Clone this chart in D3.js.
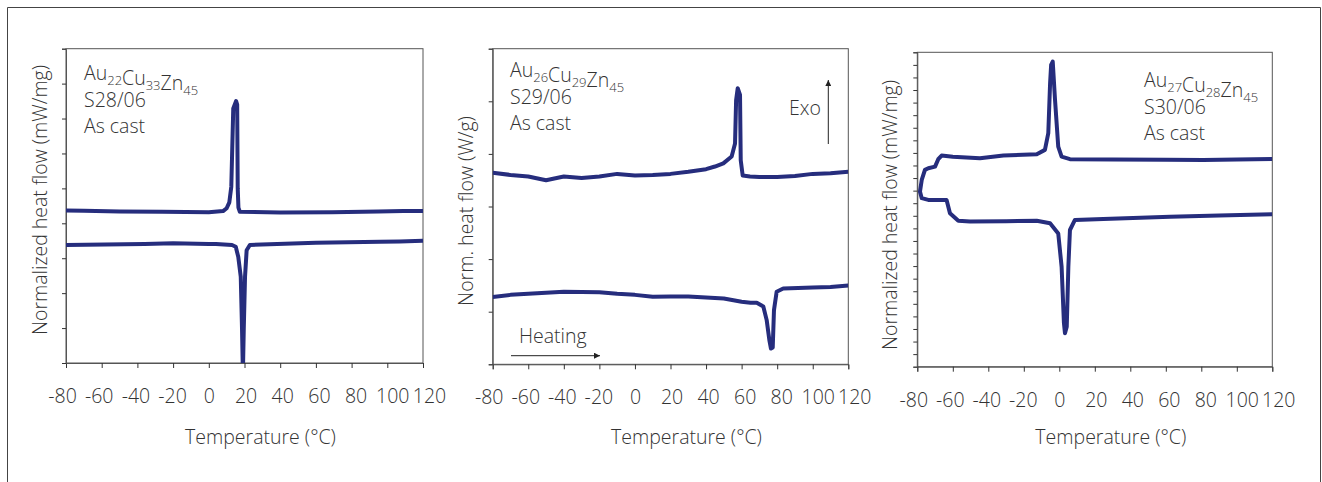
<!DOCTYPE html>
<html>
<head>
<meta charset="utf-8">
<script src="https://cdn.jsdelivr.net/npm/d3@7"></script>
<style>
  html, body { margin: 0; padding: 0; background: #fff; }
  svg { display: block; }
  text { font-family: "Open Sans", "Noto Sans", sans-serif; font-weight: 300; fill: #333; }
</style>
</head>
<body>
<svg id="chart" width="1322" height="482"></svg>
<script>
// ---------------- DATA ----------------
const xTickValues = [-80, -60, -40, -20, 0, 20, 40, 60, 80, 100, 120];
const xTickLabels = ["-80", "-60", "-40", "-20", "0", "20", "40", "60", "80", "100", "120"];
const xAxisTitle = "Temperature (°C)";
const yAxisTitles = ["Normalized heat flow (mW/mg)", "Norm. heat flow (W/g)", "Normalized heat flow (mW/mg)"];

// Alloy labels: [base, sub] pairs
const alloy1 = [["Au", "22"], ["Cu", "33"], ["Zn", "45"]];
const alloy2 = [["Au", "26"], ["Cu", "29"], ["Zn", "45"]];
const alloy3 = [["Au", "27"], ["Cu", "28"], ["Zn", "45"]];
const sampleIds = ["S28/06", "S29/06", "S30/06"];
const stateLabel = "As cast";

// Y domains (arbitrary units; axis has no labels)
const yDomain1 = [0, 9];
const yDomain2 = [0, 6];
const yDomain3 = [0, 25];

// Panel 1 — Au22Cu33Zn45: [temperature, heat flow]
const p1Upper = [[-80,4.37],[-70,4.36],[-50,4.34],[-26,4.33],[0,4.32],[8,4.35],[10,4.43],[11.5,4.6],[12.6,5.05],[13.7,7.29],
  [15.3,7.5],[15.9,7.4],[16.2,5.0],[16.6,4.45],[17.4,4.33],[40,4.31],[69,4.32],[95,4.34],[109,4.35],[120,4.35]];
const p1Lower = [[-80,3.38],[-36,3.41],[-20,3.43],[0,3.41],[4,3.41],[13,3.38],[15.1,3.33],[16.5,3.04],[17.9,2.47],[18.6,1.0],
  [19.1,-0.3],[19.6,1.0],[20.3,2.47],[21.2,3.23],[23,3.38],[60,3.44],[96,3.47],[107,3.48],[120,3.5]];

// Panel 2 — Au26Cu29Zn45
const p2Upper = [[-80,3.64],[-70,3.6],[-60,3.57],[-50,3.5],[-40,3.57],[-30,3.54],[-20,3.57],
  [-10,3.62],[0,3.59],[10,3.6],[20,3.62],[30,3.66],[40,3.71],[45,3.76],[49.7,3.82],[54.4,3.95],[56.3,4.2],[56.9,5.02],
  [57.8,5.25],[59.1,5.12],[59.5,3.88],[60.6,3.59],[64.7,3.57],[70,3.56],[80,3.56],[90,3.58],[100,3.62],[110,3.63],[120,3.66]];
const p2Lower = [[-80,1.28],[-70,1.32],[-60,1.34],[-50,1.36],[-40,1.38],[-30,1.375],[-20,1.37],[-10,1.34],[0,1.32],[10,1.285],
  [20,1.29],[30,1.29],[40,1.27],[50,1.25],[60,1.19],[65,1.17],[68.5,1.17],[72.2,1.1],[74.1,0.84],[75.6,0.46],[76.5,0.3],
  [77.5,0.32],[78.2,1.03],[79.7,1.38],[83.4,1.44],[100,1.46],[110,1.47],[120,1.5]];

// Panel 3 — Au27Cu28Zn45 (continuous loop: cooling from 120 °C, then heating)
const p3Cooling = [[120,16.52],[100,16.47],[81.1,16.44],[60,16.45],[30,16.48],[6,16.5],[1.3,16.7],[-0.6,17.5],[-2.4,21.2],
  [-3.7,24.26],[-4.6,24.0],[-5.2,22.5],[-6.2,18.57],[-8.1,17.24],[-12.7,16.9],[-31.5,16.79],[-44.7,16.58],[-60,16.7],
  [-66.3,16.79],[-68.2,16.5],[-70,15.91],[-73.8,15.78],[-75.7,15.65],[-77.5,14.85],[-78.5,13.92]];
const p3Heating = [[-78.5,13.92],[-77.5,13.4],[-73.8,13.26],[-63.5,13.26],[-61.6,12.2],[-56.9,11.6],[-50.3,11.54],
  [-30,11.57],[-12.7,11.6],[-5.2,11.4],[-0.6,10.6],[1.3,7.95],[2.6,3.5],[3.2,2.66],[4.2,3.18],[5.1,7.95],[6,10.87],
  [8.8,11.67],[24.8,11.75],[62.4,11.93],[90,12.03],[120,12.12]];

// ---------------- LAYOUT ----------------
const svg = d3.select("#chart");
const lineColor = "#262d7d";
const axisColor = "#555";

// outer frame (open at bottom)
svg.append("path")
  .attr("d", "M7.5,482 L7.5,7.5 L1320.5,7.5 L1320.5,482")
  .attr("fill", "none").attr("stroke", "#444").attr("stroke-width", 1);

const panels = [
  { box: [66, 48.7, 423, 363], y: yDomain1, series: [p1Upper, p1Lower], alloy: alloy1, id: sampleIds[0],
    labelX: 84, labelY: 80, ytitle: yAxisTitles[0], ytX: 47, ytY: 200 },
  { box: [492.7, 48.7, 848.3, 364.3], y: yDomain2, series: [p2Upper, p2Lower], alloy: alloy2, id: sampleIds[1],
    labelX: 510, labelY: 77, ytitle: yAxisTitles[1], ytX: 472.5, ytY: 211 },
  { box: [917.3, 52.3, 1272.3, 366.7], y: yDomain3, series: [p3Cooling.concat(p3Heating.slice(1))], alloy: alloy3, id: sampleIds[2],
    labelX: 1144, labelY: 87, ytitle: yAxisTitles[2], ytX: 897, ytY: 215 }
];

const fontSize = 19.5;
const tickFontSize = 19.5;

panels.forEach((p, i) => {
  const [x0, y0, x1, y1] = p.box;
  const x = d3.scaleLinear().domain([-80, 120]).range([x0, x1]);
  const y = d3.scaleLinear().domain(p.y).range([y1, y0]);
  const g = svg.append("g");

  const clipId = "clip" + i;
  svg.append("clipPath").attr("id", clipId)
    .append("rect").attr("x", x0).attr("y", y0).attr("width", x1 - x0).attr("height", y1 - y0);

  // plot box
  g.append("rect").attr("x", x0).attr("y", y0).attr("width", x1 - x0).attr("height", y1 - y0)
    .attr("fill", "none").attr("stroke", axisColor).attr("stroke-width", 1);

  // x axis
  const xa = g.append("g").attr("transform", `translate(0,${y1})`)
    .call(d3.axisBottom(x).tickValues(xTickValues).tickSize(5).tickFormat((d, k) => xTickLabels[k]));
  xa.select(".domain").attr("stroke", axisColor);
  xa.selectAll(".tick line").attr("stroke", "#333");
  xa.selectAll(".tick text").attr("font-size", tickFontSize).attr("font-family", null)
    .attr("fill", "#333").attr("y", 0).attr("dy", 0).attr("transform", "translate(0,40)")
    .attr("dx", d => d * 0.05);

  // y axis (ticks only)
  const yTicks = d3.range(p.y[0], p.y[1] + 1, 1);
  const ya = g.append("g").attr("transform", `translate(${x0},0)`)
    .call(d3.axisLeft(y).tickValues(yTicks).tickSize(4).tickFormat(""));
  ya.select(".domain").attr("stroke", axisColor);
  ya.selectAll(".tick line").attr("stroke", "#333");

  // titles
  g.append("text").attr("x", (x0 + x1) / 2 + 16).attr("y", 444).attr("text-anchor", "middle")
    .attr("font-size", fontSize).text(xAxisTitle);
  g.append("text").attr("transform", `translate(${p.ytX},${p.ytY}) rotate(-90)`).attr("text-anchor", "middle")
    .attr("font-size", fontSize).text(p.ytitle);

  // curves
  const line = d3.line().x(d => x(d[0])).y(d => y(d[1])).curve(d3.curveLinear);
  p.series.forEach(s => {
    g.append("path").datum(s).attr("d", line).attr("clip-path", `url(#${clipId})`)
      .attr("fill", "none").attr("stroke", lineColor).attr("stroke-width", 4)
      .attr("stroke-linejoin", "round").attr("stroke-linecap", "butt");
  });

  // sample labels
  const t = g.append("text").attr("x", p.labelX).attr("y", p.labelY).attr("font-size", fontSize);
  p.alloy.forEach(([el, sub]) => {
    t.append("tspan").text(el).attr("dy", 0);
    t.append("tspan").text(sub).attr("font-size", 13).attr("dy", 5);
    t.append("tspan").text("").attr("dy", -5);
  });
  g.append("text").attr("x", p.labelX).attr("y", p.labelY + 26.5).attr("font-size", fontSize).text(p.id);
  g.append("text").attr("x", p.labelX).attr("y", p.labelY + 53).attr("font-size", fontSize).text(stateLabel);
});

// annotations in panel 2
const defs = svg.append("defs");
defs.append("marker").attr("id", "arrow").attr("viewBox", "0 0 10 10").attr("refX", 10).attr("refY", 5)
  .attr("markerWidth", 9).attr("markerHeight", 6).attr("markerUnits", "userSpaceOnUse").attr("orient", "auto")
  .append("path").attr("d", "M0,0 L10,5 L0,10 Z").attr("fill", "#222");
svg.append("line").attr("x1", 828.3).attr("y1", 144).attr("x2", 828.3).attr("y2", 80)
  .attr("stroke", "#222").attr("stroke-width", 1).attr("marker-end", "url(#arrow)");
svg.append("text").attr("x", 821).attr("y", 115).attr("text-anchor", "end").attr("font-size", fontSize).text("Exo");
svg.append("line").attr("x1", 511).attr("y1", 355.7).attr("x2", 600).attr("y2", 355.7)
  .attr("stroke", "#222").attr("stroke-width", 1).attr("marker-end", "url(#arrow)");
svg.append("text").attr("x", 519).attr("y", 343).attr("font-size", fontSize).text("Heating");
</script>
</body>
</html>
